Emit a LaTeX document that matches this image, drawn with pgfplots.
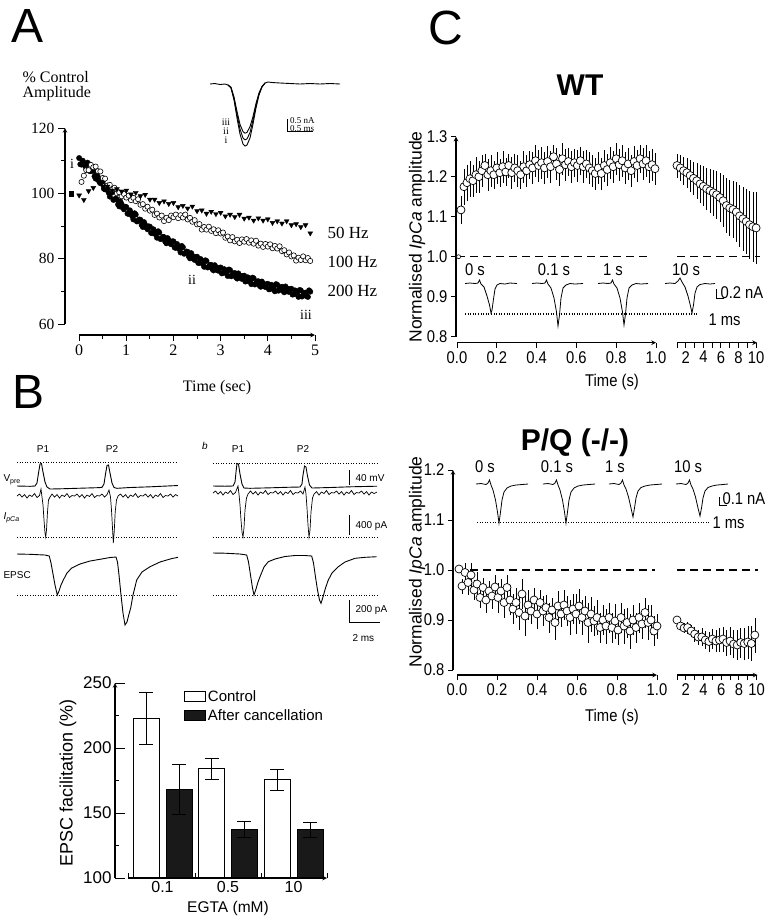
\documentclass[border=0pt]{standalone}
\usepackage{fontspec}
\setmainfont{Liberation Sans}
\newfontfamily\timesf{Liberation Serif}
\newfontfamily\narrowf[FakeStretch=0.87]{Liberation Sans}
\usepackage{pgfplots}
\usepackage{pgfplotstable}
\pgfplotsset{compat=1.18}
\newcommand{\fs}[1]{\fontsize{#1}{#1}\selectfont}

\pgfplotstableread{
t v
0.00 110.8
0.05 108.8
0.10 109.2
0.15 107.4
0.20 109.0
0.25 106.8
0.30 106.9
0.35 104.5
0.40 104.9
0.45 103.1
0.50 103.6
0.55 101.2
0.60 101.2
0.65 99.0
0.70 100.3
0.75 98.1
0.80 98.1
0.85 96.0
0.90 96.7
0.95 95.1
1.00 95.8
1.05 93.7
1.10 94.0
1.15 92.0
1.20 93.5
1.25 91.6
1.30 91.9
1.35 89.7
1.40 90.4
1.45 89.0
1.50 89.8
1.55 87.8
1.60 88.2
1.65 86.4
1.70 88.0
1.75 86.2
1.80 86.6
1.85 84.7
1.90 85.7
1.95 84.4
2.00 85.3
2.05 83.3
2.10 83.7
2.15 81.9
2.20 83.5
2.25 81.7
2.30 82.1
2.35 80.1
2.40 80.9
2.45 79.6
2.50 80.6
2.55 78.7
2.60 79.2
2.65 77.5
2.70 79.3
2.75 77.6
2.80 78.1
2.85 76.4
2.90 77.4
2.95 76.3
3.00 77.3
3.05 75.6
3.10 76.2
3.15 74.7
3.20 76.5
3.25 75.0
3.30 75.6
3.35 73.9
3.40 74.9
3.45 73.8
3.50 74.8
3.55 73.1
3.60 73.7
3.65 72.2
3.70 74.0
3.75 72.5
3.80 73.1
3.85 71.4
3.90 72.4
3.95 71.3
4.00 72.3
4.05 70.7
4.10 71.5
4.15 70.0
4.20 72.0
4.25 70.6
4.30 71.4
4.35 69.7
4.40 70.9
4.45 69.8
4.50 70.8
4.55 69.1
4.60 69.7
4.65 68.3
4.70 70.3
4.75 68.8
4.80 69.6
4.85 68.3
4.90 69.9
0.025 108.9
0.075 110.0
0.125 108.4
0.175 109.4
0.225 106.8
0.275 107.1
0.325 105.2
0.375 105.9
0.425 103.8
0.475 103.8
0.525 101.4
0.575 102.2
0.625 100.2
0.675 100.8
0.725 98.0
0.775 98.4
0.825 96.6
0.875 97.5
0.925 95.6
0.975 95.9
1.025 93.8
1.075 94.8
1.125 93.0
1.175 93.9
1.225 91.4
1.275 92.0
1.325 90.3
1.375 91.2
1.425 89.5
1.475 89.9
1.525 87.9
1.575 89.0
1.625 87.4
1.675 88.4
1.725 86.0
1.775 86.7
1.825 85.2
1.875 86.3
1.925 84.8
1.975 85.3
2.025 83.4
2.075 84.5
2.125 82.9
2.175 83.9
2.225 81.5
2.275 82.2
2.325 80.7
2.375 81.7
2.425 80.0
2.475 80.5
2.525 78.7
2.575 79.9
2.625 78.4
2.675 79.5
2.725 77.3
2.775 78.1
2.825 76.8
2.875 78.0
2.925 76.6
2.975 77.2
3.025 75.5
3.075 76.8
3.125 75.5
3.175 76.7
3.225 74.6
3.275 75.5
3.325 74.3
3.375 75.5
3.425 74.1
3.475 74.7
3.525 73.0
3.575 74.3
3.625 73.0
3.675 74.2
3.725 72.1
3.775 73.0
3.825 71.8
3.875 73.0
3.925 71.6
3.975 72.2
4.025 70.6
4.075 72.0
4.125 70.8
4.175 72.2
4.225 70.2
4.275 71.2
4.325 70.1
4.375 71.5
4.425 70.1
4.475 70.7
4.525 69.0
4.575 70.3
4.625 69.1
4.675 70.4
4.725 68.4
4.775 69.5
4.825 68.5
4.875 70.3
}\dtwohundred

\pgfplotstableread{
t v
0.05 103.5
0.10 105.4
0.15 107.1
0.20 107.1
0.25 108.7
0.30 108.0
0.35 108.2
0.40 106.8
0.45 106.7
0.50 104.7
0.55 104.5
0.60 102.4
0.65 102.6
0.70 101.1
0.75 101.7
0.80 100.0
0.85 100.3
0.90 99.1
0.95 99.8
1.00 98.7
1.05 99.3
1.10 97.9
1.15 98.6
1.20 97.6
1.25 98.2
1.30 96.5
1.35 96.7
1.40 95.3
1.45 95.9
1.50 94.7
1.55 95.0
1.60 93.4
1.65 93.8
1.70 92.6
1.75 93.2
1.80 91.5
1.85 92.5
1.90 91.8
1.95 93.2
2.00 92.7
2.05 93.5
2.10 92.4
2.15 93.3
2.20 92.6
2.25 93.5
2.30 92.0
2.35 92.5
2.40 91.3
2.45 91.8
2.50 90.5
2.55 90.6
2.60 88.9
2.65 89.7
2.70 88.9
2.75 89.8
2.80 88.5
2.85 89.0
2.90 87.8
2.95 88.7
3.00 87.7
3.05 88.0
3.10 86.4
3.15 86.8
3.20 85.6
3.25 86.6
3.30 85.3
3.35 85.8
3.40 84.8
3.45 85.9
3.50 85.2
3.55 86.0
3.60 84.9
3.65 85.6
3.70 84.6
3.75 85.5
3.80 84.0
3.85 84.6
3.90 83.6
3.95 84.5
4.00 83.7
4.05 84.4
4.10 83.2
4.15 83.9
4.20 83.1
4.25 83.8
4.30 82.3
4.35 82.6
4.40 81.3
4.45 81.9
4.50 80.7
4.55 81.0
4.60 79.4
4.65 80.3
4.70 79.6
4.75 80.7
4.80 79.5
4.85 80.2
4.90 79.3
}\dhundred

\pgfplotstableread{
t v
0.0 99.4
0.1 98.0
0.2 100.7
0.3 101.7
0.4 103.6
0.5 102.1
0.6 102.1
0.7 100.9
0.8 101.3
0.9 100.6
1.0 100.9
1.1 99.7
1.2 100.2
1.3 99.2
1.4 99.6
1.5 98.1
1.6 98.1
1.7 97.1
1.8 97.6
1.9 96.8
2.0 97.1
2.1 95.8
2.2 96.2
2.3 95.4
2.4 96.0
2.5 94.6
2.6 94.8
2.7 93.8
2.8 94.4
2.9 93.7
3.0 94.1
3.1 93.0
3.2 93.5
3.3 92.8
3.4 93.5
3.5 92.3
3.6 92.6
3.7 91.7
3.8 92.4
3.9 91.7
4.0 92.1
4.1 91.0
4.2 91.5
4.3 90.8
4.4 91.5
4.5 90.3
4.6 90.6
4.7 89.7
4.8 90.3
4.9 87.8
}\dfifty

\pgfplotstableread{
t v e
0.020 1.117 0.035
0.035 1.175 0.045
0.050 1.185 0.045
0.065 1.195 0.045
0.080 1.190 0.040
0.095 1.205 0.045
0.110 1.200 0.040
0.125 1.215 0.040
0.140 1.228 0.030
0.155 1.205 0.040
0.170 1.215 0.040
0.185 1.205 0.035
0.200 1.222 0.040
0.215 1.210 0.035
0.230 1.225 0.040
0.245 1.212 0.035
0.260 1.228 0.030
0.275 1.210 0.040
0.290 1.222 0.035
0.305 1.215 0.040
0.320 1.205 0.035
0.335 1.225 0.040
0.350 1.215 0.040
0.365 1.230 0.035
0.380 1.222 0.040
0.395 1.240 0.040
0.410 1.228 0.040
0.425 1.235 0.040
0.440 1.222 0.040
0.455 1.238 0.040
0.470 1.225 0.040
0.485 1.250 0.030
0.500 1.232 0.040
0.515 1.218 0.040
0.530 1.245 0.040
0.545 1.230 0.040
0.560 1.238 0.035
0.575 1.225 0.040
0.590 1.235 0.035
0.605 1.228 0.040
0.620 1.240 0.035
0.635 1.225 0.040
0.650 1.232 0.035
0.665 1.222 0.040
0.680 1.215 0.040
0.695 1.208 0.040
0.710 1.222 0.040
0.725 1.208 0.040
0.740 1.228 0.040
0.755 1.218 0.040
0.770 1.235 0.040
0.785 1.225 0.040
0.800 1.245 0.040
0.815 1.230 0.040
0.830 1.240 0.040
0.845 1.222 0.040
0.860 1.232 0.040
0.875 1.215 0.040
0.890 1.238 0.040
0.905 1.228 0.040
0.920 1.245 0.035
0.935 1.232 0.040
0.950 1.240 0.040
0.965 1.225 0.040
0.980 1.230 0.040
0.995 1.220 0.040
}\wtleft

\pgfplotstableread{
t v e
1.000 1.228 0.030
1.375 1.222 0.032
1.750 1.215 0.035
2.125 1.210 0.037
2.500 1.203 0.040
2.875 1.196 0.042
3.250 1.190 0.045
3.625 1.182 0.047
4.000 1.176 0.050
4.375 1.170 0.052
4.750 1.165 0.055
5.125 1.160 0.058
5.500 1.155 0.060
5.875 1.148 0.062
6.250 1.140 0.065
6.625 1.128 0.068
7.000 1.122 0.070
7.375 1.118 0.072
7.750 1.112 0.075
8.125 1.102 0.078
8.500 1.095 0.080
8.875 1.088 0.082
9.250 1.080 0.085
9.625 1.075 0.088
10.00 1.072 0.090
}\wtright

\pgfplotstableread{
t v e
0.010 1.002 0.005
0.025 0.968 0.015
0.040 0.995 0.020
0.055 0.975 0.025
0.070 0.990 0.025
0.085 0.960 0.020
0.100 0.972 0.025
0.115 0.945 0.020
0.130 0.965 0.020
0.145 0.940 0.025
0.160 0.958 0.020
0.175 0.948 0.025
0.190 0.966 0.025
0.205 0.945 0.030
0.220 0.958 0.025
0.235 0.935 0.030
0.250 0.965 0.025
0.265 0.940 0.030
0.280 0.922 0.030
0.295 0.935 0.030
0.310 0.915 0.035
0.325 0.952 0.030
0.340 0.908 0.040
0.355 0.930 0.030
0.370 0.918 0.025
0.385 0.940 0.025
0.400 0.912 0.030
0.415 0.935 0.025
0.430 0.918 0.030
0.445 0.925 0.025
0.460 0.905 0.030
0.475 0.920 0.025
0.490 0.895 0.035
0.505 0.928 0.030
0.520 0.912 0.025
0.535 0.930 0.030
0.550 0.918 0.030
0.565 0.905 0.035
0.580 0.922 0.030
0.595 0.912 0.040
0.610 0.928 0.035
0.625 0.905 0.035
0.640 0.918 0.030
0.655 0.895 0.040
0.670 0.912 0.035
0.685 0.898 0.030
0.700 0.905 0.035
0.715 0.885 0.030
0.730 0.900 0.030
0.745 0.888 0.035
0.760 0.905 0.030
0.775 0.885 0.030
0.790 0.898 0.035
0.805 0.880 0.030
0.820 0.905 0.030
0.835 0.888 0.035
0.850 0.895 0.030
0.865 0.878 0.035
0.880 0.900 0.030
0.895 0.885 0.030
0.910 0.905 0.030
0.925 0.892 0.030
0.940 0.915 0.030
0.955 0.895 0.035
0.970 0.900 0.030
0.985 0.878 0.030
1.000 0.888 0.025
}\pqleft

\pgfplotstableread{
t v e
1.0 0.900 0.005
1.4 0.888 0.008
1.8 0.884 0.010
2.2 0.885 0.012
2.6 0.878 0.012
3.0 0.872 0.015
3.4 0.866 0.015
3.8 0.866 0.018
4.2 0.860 0.018
4.6 0.857 0.020
5.0 0.862 0.020
5.4 0.858 0.022
5.8 0.860 0.024
6.2 0.862 0.025
6.6 0.855 0.026
7.0 0.858 0.028
7.4 0.852 0.028
7.8 0.850 0.030
8.2 0.855 0.030
8.6 0.853 0.032
9.0 0.856 0.033
9.4 0.853 0.035
9.8 0.870 0.035
}\pqright

\pgfplotsset{
  base/.style={scale only axis, anchor=south west, clip=false,
    axis line style={-, line width=1.1pt},
    every tick/.style={black, line width=1pt},
    /pgf/number format/assume math mode=true},
  cmark/.style={only marks, mark=*, mark size=4pt,
    mark options={fill=white, draw=black, line width=0.7pt},
    error bars/.cd, y dir=both, y explicit,
    error bar style={line width=0.5pt, black}, error mark=none},
  trace/.style={black, line width=0.9pt, no marks},
  dots/.style={black, line width=1pt, dash pattern=on 1pt off 1.6pt, no marks},
}

\begin{document}
\begin{tikzpicture}
\path[use as bounding box] (0pt,0pt) rectangle (768pt,-919pt);

% ---------- canvas for traces (pixel coordinates) ----------
\begin{axis}[at={(0pt,0pt)}, anchor=north west, scale only axis,
  width=768pt, height=919pt, xmin=0, xmax=768, ymin=0, ymax=919,
  y dir=reverse, hide axis, clip=false]
% A inset
\addplot[trace] coordinates {(210,84) (215,83.5) (220,84.5) (225,84) (228,85) (231,88) (234,100) (237,118) (240,134) (243,144) (245,146) (247,145) (250,138) (253,124) (256,108) (259,95) (262,87) (265,83) (268,82) (272,82.5) (280,83) (290,83.5) (300,84) (310,83.5) (320,84) (330,83.5) (340,84)};
\addplot[trace] coordinates {(228,85) (231,87.6) (234,98.4) (237,114.6) (240,129) (243,138) (245,139.8) (247,138.9) (250,132.6) (253,120) (256,105.6) (259,93.9) (262,86.7) (265,83)};
\addplot[trace] coordinates {(228,85) (231,87.2) (234,96.9) (237,111.4) (240,124.4) (243,131.6) (245,133.2) (247,132.4) (250,126.6) (253,116.6) (256,103.4) (259,92.9) (262,86.4) (265,83)};
\addplot[black, line width=0.8pt] coordinates {(287,119) (287,131) (313,131)};
% B traces, panel a
\addplot[dots] coordinates {(17,462.7) (178,462.7)};
\addplot[dots] coordinates {(17,537.7) (178,537.7)};
\addplot[dots] coordinates {(17,595.7) (178,595.7)};
\addplot[trace] coordinates {(17,486) (30,486.3) (35,486) (37,483) (38.5,473) (40,464) (41.5,463.5) (43,472) (45,482) (47,487) (50,489) (60,488.8) (80,488.2) (100,487.6) (102,487.3) (104,484) (105.5,474) (107,465.5) (108.5,465) (110,473) (112,483) (114,487.5) (117,488.3) (130,487.5) (150,486.8) (178,485.5)};
\addplot[trace, line width=0.7pt] coordinates {(17,496) (19.5,494) (22,497) (24.5,494.5) (27,498) (29.5,495) (32,496.5) (34.5,493.5) (37,497.5) (39.5,495.5) (41,489) (42,497) (43,505) (44,520) (45,533) (45.7,537) (46.5,530) (47.5,512) (48.5,500) (50,497) (52,494) (54.5,497) (57,494.5) (59.5,498) (62,495) (64.5,496.5) (67,493.5) (69.5,497.5) (72,495.5) (74.5,496) (77,494) (79.5,497) (82,494.5) (84.5,498) (87,495) (89.5,496.5) (92,493.5) (94.5,497.5) (97,495.5) (99.5,496) (102,494) (104.5,497) (107,494.5) (109,490) (110.5,497) (111.5,510) (112.5,528) (113.3,543) (114.2,532) (115.2,512) (116.5,500) (118,496) (120.5,494) (123,497) (125.5,494.5) (128,498) (130.5,495) (133,496.5) (135.5,493.5) (138,497.5) (140.5,495.5) (143,496) (145.5,494) (148,497) (150.5,494.5) (153,498) (155.5,495) (158,496.5) (160.5,493.5) (163,497.5) (165.5,495.5) (168,496) (170.5,494) (173,497) (175.5,494.5) (178,496)};
\addplot[trace] coordinates {(17,554) (30,554.3) (45,555) (49.3,556) (51,563) (53,574) (55,585) (57.3,595) (59,591) (61,585) (63.3,580) (67,573) (71.7,568) (80,564) (90,561) (100,559.3) (110,557.5) (116,557) (117.5,562) (119,575) (121,595) (123,613) (125,625) (127,622) (129,614) (130.7,608) (133,595) (136.7,580) (142,572) (150,566.7) (160,562) (166.7,560) (172,558.5) (178,557.3)};
% B traces, panel b
\addplot[dots] coordinates {(213,463) (377,463)};
\addplot[dots] coordinates {(213,537.3) (377,537.3)};
\addplot[dots] coordinates {(213,595.7) (377,595.7)};
\addplot[trace] coordinates {(213,486) (225,486.2) (233,486) (235,482) (236,472) (237,463.5) (238.5,464) (240,474) (242,484) (244,488) (250,488.3) (270,487.8) (290,487.2) (300,487) (302,484) (303,475) (304.5,466) (306,467) (307.5,476) (309.5,485) (312,488) (330,487.5) (350,486.8) (377,486.2)};
\addplot[trace, line width=0.7pt] coordinates {(213,493) (215.5,491) (218,494) (220.5,491.5) (223,495) (225.5,492) (228,493.5) (230.5,490.5) (233,494.5) (235.5,492.5) (238,486) (239,494) (240,505) (241,520) (242,532) (243,537) (244,528) (245,510) (246.5,498) (248,494) (250.5,491) (253,494) (255.5,491.5) (258,495) (260.5,492) (263,493.5) (265.5,490.5) (268,494.5) (270.5,492.5) (273,493) (275.5,491) (278,494) (280.5,491.5) (283,495) (285.5,492) (288,493.5) (290.5,490.5) (293,494.5) (295.5,492.5) (298,493) (300.5,491) (303,494) (305,487) (306,494) (307,508) (308,525) (309,537) (310,530) (311,512) (312.5,498) (314,494) (316.5,491.5) (319,495) (321.5,492) (324,493.5) (326.5,490.5) (329,494.5) (331.5,492.5) (334,493) (336.5,491) (339,494) (341.5,491.5) (344,495) (346.5,492) (349,493.5) (351.5,490.5) (354,494.5) (356.5,492.5) (359,493) (361.5,491) (364,494) (366.5,491.5) (369,495) (371.5,492) (374,493.5) (377,492)};
\addplot[trace] coordinates {(213,553) (225,553.2) (240,554) (246.7,555) (248.5,562) (250.5,575) (252.5,588) (254,595) (256,589) (258,582) (260,576.7) (264,567) (268.3,561.7) (275,559) (285,556.5) (295,555.5) (305,555.5) (311.7,556) (313.5,563) (315.5,577) (317.5,590) (319.5,600) (321,603.3) (323,597) (325.5,588) (328.3,580) (332,573) (338.3,566.7) (345,562) (355,558.3) (365,557.3) (376.7,556.7)};
% B scale bars
\addplot[black, line width=0.9pt] coordinates {(349,470) (349,485)};
\addplot[black, line width=0.9pt] coordinates {(349,515) (349,535)};
\addplot[black, line width=0.9pt] coordinates {(349,600) (349,622) (380,622)};
% C WT inset
\addplot[dots, line width=1.2pt] coordinates {(465,314) (698,314)};
\addplot[trace, line width=0.8pt] coordinates {(465,283.5) (470,283) (475,283.5) (478,283) (479.5,280) (481,284) (484,287) (487,296) (489.5,305) (491,313) (492,310) (493.5,299) (495,289) (497,285) (500,283.5) (505,284) (510,283) (517,283.5)};
\addplot[trace, line width=0.8pt] coordinates {(532,283.5) (537,283) (542,283.5) (545,283) (546.5,280) (548,284) (551,288) (554,298) (556.5,312) (558,326) (559.5,315) (561,298) (563,288) (566,285) (570,283.5) (575,284) (583,283.5)};
\addplot[trace, line width=0.8pt] coordinates {(598,283.5) (603,283) (608,283.5) (611,283) (612.5,280) (614,284) (617,288) (620,298) (622.5,312) (624,325) (625.5,314) (627,298) (629,288) (632,285) (636,283.5) (641,284) (648,283.5)};
\addplot[trace, line width=0.8pt] coordinates {(665,283.5) (670,283) (675,283.5) (678,281) (680,278) (682,282) (685,287) (688,296) (690.5,306) (692,313) (693.5,305) (695,293) (697,287) (700,284.5) (705,283.5) (710,284) (715,283.5)};
\addplot[black, line width=1pt] coordinates {(716,289) (716,298) (724,298)};
% C PQ inset
\addplot[dots, line width=1.2pt] coordinates {(477,522.7) (710,522.7)};
\addplot[trace, line width=0.8pt] coordinates {(476,484) (481,483.5) (486,484.5) (488,483) (489.5,480) (491,485) (493,490) (495.5,500) (497.5,512) (499,523) (500.5,512) (502,500) (504,492) (507,488) (511,486) (516,485) (522,484.5) (528,484)};
\addplot[trace, line width=0.8pt] coordinates {(543,484) (548,483.5) (553,484.5) (555,483) (556.5,480) (558,485) (560,490) (562.5,500) (564.5,512) (566,523) (567.5,512) (569,500) (571,492) (574,488) (578,486) (583,485) (589,484.5) (595,484)};
\addplot[trace, line width=0.8pt] coordinates {(609,484) (614,483.5) (619,484.5) (621,483) (622.5,480) (624,485) (626,489) (628.5,497) (631,508) (633,517) (634.5,508) (636,498) (638,491) (641,487.5) (645,486) (650,485) (656,484.5) (662,484)};
\addplot[trace, line width=0.8pt] coordinates {(676,484) (681,483.5) (686,484.5) (688,483) (689.5,480) (691,485) (693,489) (695.5,497) (698,508) (700,516) (701.5,508) (703,498) (705,491) (708,487.5) (712,486) (717,485) (723,484.5) (728,484)};
\addplot[black, line width=1pt] coordinates {(719,497) (719,505) (727,505)};
\end{axis}

% ---------- Panel A ----------
\begin{axis}[base, at={(65pt,-324pt)}, width=259.4pt, height=196pt,
  xmin=-0.3, xmax=5.2, ymin=60, ymax=120,
  axis y line=left, axis x line=none,
  ytick={60,80,100,120}, minor ytick={70,90,110},
  tick align=outside, major tick length=7pt, minor tick length=4pt,
  yticklabel style={font=\timesf\fs{15.5}}]
\addplot[only marks, mark=*, mark size=2.7pt, black] table[x=t,y=v] {\dtwohundred};
\addplot[only marks, mark=*, mark size=2.6pt, mark options={fill=white, draw=black, line width=0.6pt}] table[x=t,y=v] {\dhundred};
\addplot[only marks, mark=triangle*, mark size=2.8pt, black, mark options={rotate=180}] table[x=t,y=v] {\dfifty};
\addplot[only marks, mark=square*, mark size=2.4pt, black] coordinates {(-0.17,100)};
\end{axis}
\begin{axis}[base, at={(79pt,-335pt)}, width=236pt, height=1pt,
  xmin=0, xmax=5, ymin=0, ymax=1, axis x line=bottom, axis y line=none,
  xtick={0,1,2,3,4,5}, minor x tick num=1,
  tick align=outside, major tick length=6pt, minor tick length=4pt,
  xticklabel style={font=\timesf\fs{16}}]
\addplot[draw=none] coordinates {(0,0)};
\end{axis}

% ---------- Panel B bar chart ----------
\begin{axis}[base, at={(115pt,-878pt)}, width=212pt, height=195pt,
  clip=true, xmin=115, xmax=327, ymin=100, ymax=250,
  axis y line=left, axis x line=none,
  ytick={100,150,200,250}, minor ytick={125,175,225},
  tick align=inside, major tick length=10pt, minor tick length=4pt,
  yticklabel style={font=\fs{17}},
  legend style={draw=none, fill=none, at={(0.31,0.985)}, anchor=north west,
    font=\fs{15}, row sep=3pt, legend cell align=left},
  legend cell align=left]
\addplot[ybar, bar width=26pt, bar shift=0pt, fill=white, draw=black, line width=1pt,
  legend image code/.code={\draw[fill=white, draw=black, line width=1pt] (0pt,-5pt) rectangle (21pt,5pt);},
  error bars/.cd, y dir=both, y explicit, error bar style={line width=1pt},
  error mark options={line width=1pt, mark size=7pt, rotate=90}]
  coordinates {(146,222.5) +- (0,20) (211.5,184) +- (0,8) (277,175.5) +- (0,8)};
\addlegendentry{Control}
\addplot[ybar, bar width=26pt, bar shift=0pt, fill=black!90, draw=black, line width=1pt,
  legend image code/.code={\draw[fill=black!90, draw=black, line width=1pt] (0pt,-5pt) rectangle (21pt,5pt);},
  error bars/.cd, y dir=both, y explicit, error bar style={line width=1pt},
  error mark options={line width=1pt, mark size=7pt, rotate=90}]
  coordinates {(179,168) +- (0,19.5) (244,137.5) +- (0,6) (310,137) +- (0,6)};
\addlegendentry{After cancellation}
\end{axis}
\begin{axis}[base, at={(128pt,-878pt)}, width=199pt, height=1pt,
  xmin=128, xmax=327, ymin=0, ymax=1, axis x line=bottom, axis y line=none,
  xtick={162.5,228,293.5}, xticklabels={0.1,0.5,10}, major tick length=0pt,
  xticklabel style={font=\fs{16}},
  extra x ticks={128,195,261,327}, extra x tick labels={},
  extra x tick style={tick align=inside, major tick length=5pt}]
\addplot[draw=none] coordinates {(150,0)};
\end{axis}

% ---------- Panel C, WT ----------
\begin{axis}[base, at={(456pt,-336.7pt)}, width=200pt, height=200pt,
  xmin=-0.005, xmax=1.0, ymin=0.8, ymax=1.3,
  axis y line=left, axis x line=none,
  ytick={0.8,0.9,1.0,1.1,1.2,1.3}, tick align=outside, major tick length=5pt,
  yticklabel style={font=\narrowf\fs{17}, /pgf/number format/.cd, fixed, fixed zerofill, precision=1}]
\addplot[black, line width=1.4pt, dash pattern=on 8pt off 5pt] coordinates {(0.0,1) (0.97,1)};
\addplot[cmark] table[x=t, y=v, y error=e] {\wtleft};
\addplot[only marks, mark=*, mark size=2pt, mark options={fill=white, draw=black, line width=0.6pt}] coordinates {(0.008,1.0)};
\end{axis}
\begin{axis}[base, at={(457pt,-342.7pt)}, width=199pt, height=1pt,
  xmin=0, xmax=1, ymin=0, ymax=1, axis x line=bottom, axis y line=none,
  xtick={0,0.2,0.4,0.6,0.8,1.0}, xticklabels={0.0,0.2,0.4,0.6,0.8,1.0},
  tick align=outside, major tick length=5pt, xticklabel style={font=\narrowf\fs{17}}]
\addplot[draw=none] coordinates {(0.5,0)};
\end{axis}
\begin{axis}[base, at={(677pt,-342.7pt)}, width=80pt, height=206pt,
  xmin=1, xmax=10.1, ymin=0.785, ymax=1.3, axis x line=bottom, axis y line=none,
  xtick={1,2,3,4,5,6,7,8,9,10}, xticklabels={,2,,4,,6,,8,,10},
  tick align=outside, major tick length=5pt, xticklabel style={font=\narrowf\fs{17}}]
\addplot[black, line width=1.4pt, dash pattern=on 8pt off 5pt] coordinates {(1,1) (10.4,1)};
\addplot[cmark] table[x=t, y=v, y error=e] {\wtright};
\end{axis}

% ---------- Panel C, P/Q ----------
\begin{axis}[base, at={(453pt,-670pt)}, width=204pt, height=200pt,
  xmin=-0.02, xmax=1.0, ymin=0.8, ymax=1.2,
  axis y line=left, axis x line=none,
  ytick={0.8,0.9,1.0,1.1,1.2}, tick align=outside, major tick length=5pt,
  yticklabel style={font=\narrowf\fs{17}, /pgf/number format/.cd, fixed, fixed zerofill, precision=1}]
\addplot[black, line width=1.4pt, dash pattern=on 8pt off 5pt] coordinates {(0.065,1) (0.99,1)};
\addplot[cmark] table[x=t, y=v, y error=e] {\pqleft};
\end{axis}
\begin{axis}[base, at={(457pt,-675pt)}, width=200pt, height=1pt,
  xmin=0, xmax=1, ymin=0, ymax=1, axis x line=bottom, axis y line=none,
  xtick={0,0.2,0.4,0.6,0.8,1.0}, xticklabels={0.0,0.2,0.4,0.6,0.8,1.0},
  tick align=outside, major tick length=5pt, xticklabel style={font=\narrowf\fs{17}}]
\addplot[draw=none] coordinates {(0.5,0)};
\end{axis}
\begin{axis}[base, at={(677pt,-675pt)}, width=80.5pt, height=205pt,
  xmin=1, xmax=10.1, ymin=0.79, ymax=1.2, axis x line=bottom, axis y line=none,
  xtick={1,2,3,4,5,6,7,8,9,10}, xticklabels={,2,,4,,6,,8,,10},
  tick align=outside, major tick length=5pt, xticklabel style={font=\narrowf\fs{17}}]
\addplot[black, line width=1.4pt, dash pattern=on 8pt off 5pt] coordinates {(1,1) (10.2,1)};
\addplot[cmark] table[x=t, y=v, y error=e] {\pqright};
\end{axis}

% ---------- Text ----------
\node[font=\fs{48}] at (28pt,-26pt) {A};
\node[font=\fs{48}] at (29pt,-392pt) {B};
\node[font=\fs{48}] at (446pt,-28pt) {C};

\node[anchor=west, font=\timesf\fs{16}] at (19pt,-77pt) {\% Control};
\node[anchor=west, font=\timesf\fs{16}] at (19pt,-94pt) {Amplitude};
\node[font=\timesf\fs{16}] at (217pt,-388pt) {Time (sec)};
\node[anchor=west, font=\timesf\fs{17}] at (324pt,-233pt) {50 Hz};
\node[anchor=west, font=\timesf\fs{17}] at (324pt,-262pt) {100 Hz};
\node[anchor=west, font=\timesf\fs{17}] at (324pt,-291pt) {200 Hz};
\node[font=\timesf\fs{14}] at (72pt,-164pt) {i};
\node[font=\timesf\fs{14}] at (192pt,-280pt) {ii};
\node[font=\timesf\fs{14}] at (306pt,-315pt) {iii};
\node[inner sep=0pt, font=\timesf\fs{10}] at (226pt,-122pt) {iii};
\node[inner sep=0pt, font=\timesf\fs{10}] at (226pt,-131pt) {ii};
\node[inner sep=0pt, font=\timesf\fs{10}] at (226pt,-140pt) {i};
\node[inner sep=0pt, anchor=west, font=\timesf\fs{9}] at (290pt,-121pt) {0.5 nA};
\node[inner sep=0pt, anchor=west, font=\timesf\fs{9}] at (290pt,-128.5pt) {0.5 ms};

\node[font=\fs{10}] at (43pt,-449pt) {P1};
\node[font=\fs{10}] at (112pt,-449pt) {P2};
\node[font=\fs{10}\itshape] at (205pt,-446pt) {b};
\node[font=\fs{10}] at (238pt,-449pt) {P1};
\node[font=\fs{10}] at (303pt,-449pt) {P2};
\node[anchor=west, font=\fs{10}] at (0pt,-480pt) {V\textsubscript{pre}};
\node[anchor=west, font=\fs{10}\itshape] at (0pt,-518pt) {I\textsubscript{pCa}};
\node[anchor=west, font=\fs{10}] at (0pt,-575pt) {EPSC};
\node[anchor=west, font=\fs{10}] at (352pt,-478pt) {40 mV};
\node[anchor=west, font=\fs{10}] at (352pt,-526pt) {400 pA};
\node[anchor=west, font=\fs{10}] at (352pt,-610pt) {200 pA};
\node[anchor=west, font=\fs{10}] at (349pt,-638pt) {2 ms};

\node[rotate=90, font=\fs{18}] at (68pt,-783pt) {EPSC facilitation (\%)};
\node[font=\fs{15.5}] at (228pt,-908pt) {EGTA (mM)};

\node[font=\bfseries\fs{30}] at (580pt,-85pt) {WT};
\node[font=\bfseries\fs{30}] at (575pt,-443pt) {P/Q (-/-)};
\node[rotate=90, font=\fs{17.5}] at (417pt,-237pt) {Normalised \textit{IpCa} amplitude};
\node[rotate=90, font=\fs{17.5}] at (417pt,-562pt) {Normalised \textit{IpCa} amplitude};
\node[font=\narrowf\fs{17}] at (612pt,-382pt) {Time (s)};
\node[font=\narrowf\fs{17}] at (612pt,-717pt) {Time (s)};

\node[font=\narrowf\fs{17}] at (475pt,-270pt) {0 s};
\node[font=\narrowf\fs{17}] at (554pt,-270pt) {0.1 s};
\node[font=\narrowf\fs{17}] at (613pt,-270pt) {1 s};
\node[font=\narrowf\fs{17}] at (686pt,-270pt) {10 s};
\node[anchor=west, font=\narrowf\fs{17}] at (717pt,-293pt) {0.2 nA};
\node[anchor=west, font=\narrowf\fs{17}] at (705pt,-320pt) {1 ms};

\node[font=\narrowf\fs{17}] at (485pt,-467pt) {0 s};
\node[font=\narrowf\fs{17}] at (557pt,-467pt) {0.1 s};
\node[font=\narrowf\fs{17}] at (615pt,-467pt) {1 s};
\node[font=\narrowf\fs{17}] at (688pt,-467pt) {10 s};
\node[anchor=west, font=\narrowf\fs{17}] at (719pt,-499pt) {0.1 nA};
\node[anchor=west, font=\narrowf\fs{17}] at (709pt,-523pt) {1 ms};
\end{tikzpicture}
\end{document}
